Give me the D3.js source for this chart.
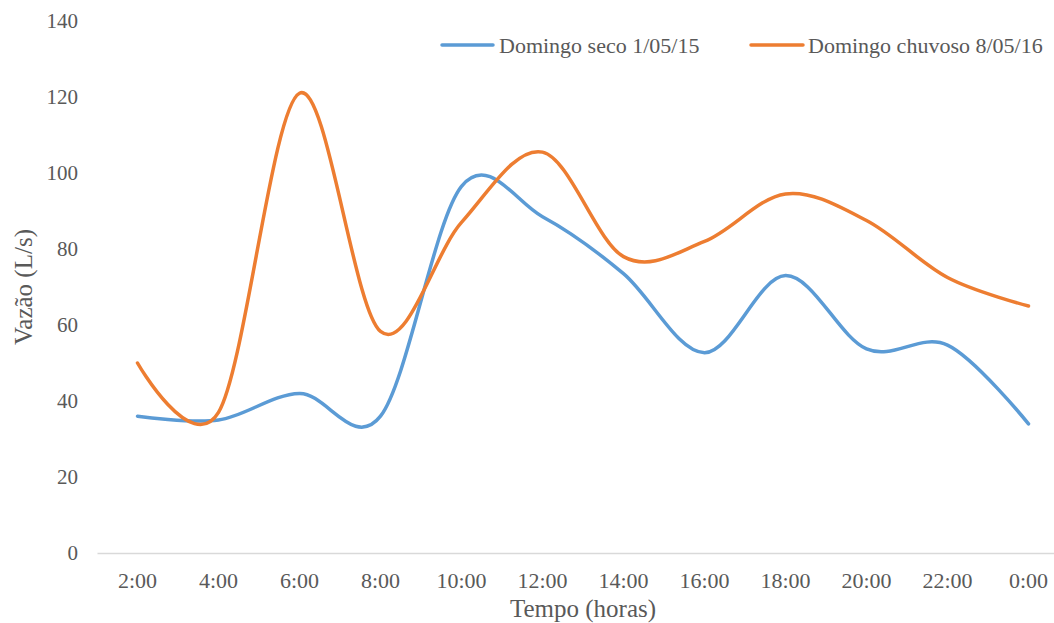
<!DOCTYPE html>
<html>
<head>
<meta charset="utf-8">
<script src="https://cdn.jsdelivr.net/npm/d3@7/dist/d3.min.js"></script>
<style>
  html, body { margin: 0; padding: 0; background: #fff; }
  svg { display: block; }
  svg text { font-family: "Liberation Serif", serif; }
</style>
</head>
<body>
<svg id="chart" width="1054" height="623"></svg>
<script>
// Hourly flow (L/s) sampled every two hours
const categories = ["2:00", "4:00", "6:00", "8:00", "10:00", "12:00", "14:00", "16:00", "18:00", "20:00", "22:00", "0:00"];
const seco = [36, 35, 42, 36, 96.5, 88.5, 73.5, 52.7, 73, 53.7, 54.7, 34];
const chuvoso = [50, 37, 121, 58.3, 87, 105.5, 78, 82, 94.5, 87.5, 72.5, 65];
const yTicks = [0, 20, 40, 60, 80, 100, 120, 140];
const seriesNames = ["Domingo seco 1/05/15", "Domingo chuvoso 8/05/16"];
const seriesColors = ["#5B9BD5", "#ED7D31"];

const FONT = "Liberation Serif, serif";
const svg = d3.select("#chart");
const plot = { left: 97, right: 1069, top: 21, bottom: 553 };

const x = d3.scaleBand().domain(categories).range([plot.left, plot.right]).padding(0);
const y = d3.scaleLinear().domain([0, 140]).range([plot.bottom, plot.top]);
const cx = d => x(d) + x.bandwidth() / 2;

// Y axis: labels only
const yAxis = svg.append("g")
  .attr("transform", `translate(${plot.left},0)`)
  .call(d3.axisLeft(y).tickValues(yTicks).tickSize(0).tickPadding(19));
yAxis.attr("font-family", FONT);
yAxis.select(".domain").remove();
yAxis.selectAll("text")
  .attr("fill", "#595959")
  .attr("font-family", FONT)
  .style("font-size", "21px");

// X axis: baseline plus category labels
const xAxis = svg.append("g")
  .attr("transform", `translate(0,${plot.bottom})`)
  .call(d3.axisBottom(x).tickSize(0).tickPadding(19));
xAxis.attr("font-family", FONT);
xAxis.select(".domain").attr("stroke", "#d9d9d9").attr("stroke-width", 1.5);
xAxis.selectAll("text")
  .attr("fill", "#595959")
  .attr("font-family", FONT)
  .style("font-size", "22px");

// Axis titles
svg.append("text")
  .attr("x", (plot.left + plot.right) / 2)
  .attr("y", 617)
  .attr("text-anchor", "middle")
  .attr("fill", "#595959")
  .attr("font-family", FONT)
  .style("font-size", "25px")
  .text("Tempo (horas)");

svg.append("text")
  .attr("transform", `translate(32,${(plot.top + plot.bottom) / 2}) rotate(-90)`)
  .attr("text-anchor", "middle")
  .attr("fill", "#595959")
  .attr("font-family", FONT)
  .style("font-size", "25px")
  .text("Vazão (L/s)");

// Smoothed series lines
const line = d3.line()
  .x((d, i) => cx(categories[i]))
  .y(d => y(d))
  .curve(d3.curveCardinal.tension(0));

[seco, chuvoso].forEach((values, k) => {
  svg.append("path")
    .datum(values)
    .attr("d", line)
    .attr("fill", "none")
    .attr("stroke", seriesColors[k])
    .attr("stroke-width", 3.5)
    .attr("stroke-linecap", "round")
    .attr("stroke-linejoin", "round");
});

// Legend
const legendItems = [
  { x1: 442, x2: 493, tx: 499 },
  { x1: 751, x2: 803, tx: 808 }
];
legendItems.forEach((it, k) => {
  const g = svg.append("g");
  g.append("line")
    .attr("x1", it.x1).attr("x2", it.x2)
    .attr("y1", 45).attr("y2", 45)
    .attr("stroke", seriesColors[k])
    .attr("stroke-width", 3.5)
    .attr("stroke-linecap", "round");
  g.append("text")
    .attr("x", it.tx)
    .attr("y", 53)
    .attr("fill", "#595959")
    .attr("font-family", FONT)
    .style("font-size", "22px")
    .text(seriesNames[k]);
});
</script>
</body>
</html>
